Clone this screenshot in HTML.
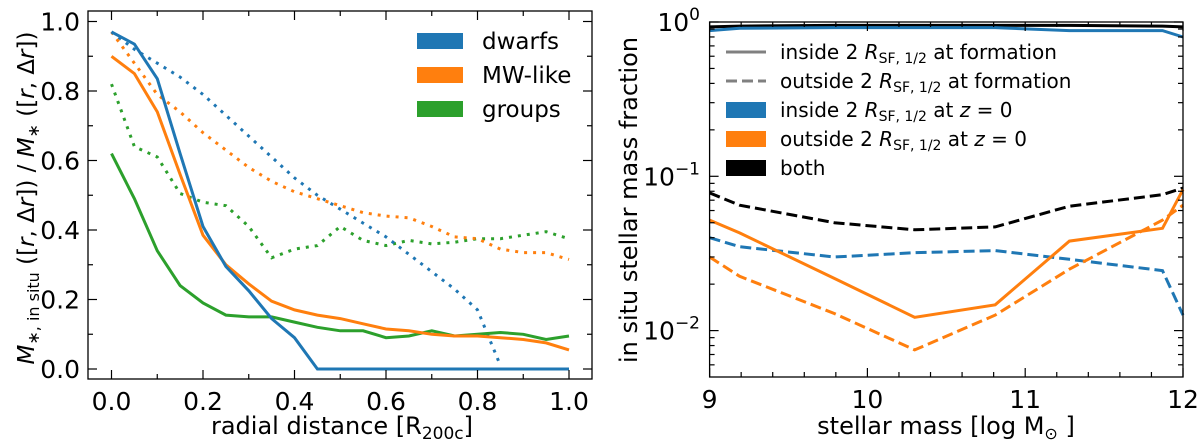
<!DOCTYPE html>
<html><head><meta charset="utf-8"><style>
html,body{margin:0;padding:0;background:#fff}
svg{display:block;font-family:"DejaVu Sans","Liberation Sans",sans-serif}
</style></head><body>
<svg id="c" width="1200" height="442" viewBox="0 0 1200 442" xmlns="http://www.w3.org/2000/svg">
<g id="L"></g>
<g id="R"></g>
</svg>
<script>
const radii=[0,0.05,0.1,0.15,0.2,0.25,0.3,0.35,0.4,0.45,0.5,0.55,0.6,0.65,0.7,0.75,0.8,0.85,0.9,0.95,1.0];
const dwarfsSolid=[0.97,0.935,0.835,0.62,0.41,0.295,0.225,0.145,0.09,0,0,0,0,0,0,0,0,0,0,0,0];
const mwSolid=[0.9,0.85,0.74,0.56,0.385,0.3,0.245,0.195,0.17,0.155,0.145,0.13,0.115,0.11,0.1,0.095,0.095,0.09,0.085,0.075,0.055];
const groupsSolid=[0.62,0.49,0.34,0.24,0.19,0.155,0.15,0.15,0.135,0.12,0.11,0.11,0.09,0.095,0.11,0.095,0.1,0.105,0.1,0.085,0.095];
const dwarfsDotted=[0.97,0.92,0.88,0.84,0.79,0.73,0.67,0.61,0.55,0.5,0.46,0.42,0.38,0.33,0.28,0.23,0.17,0.01];
const mwDotted=[0.97,0.88,0.79,0.74,0.68,0.63,0.58,0.54,0.51,0.49,0.47,0.45,0.44,0.435,0.41,0.38,0.375,0.345,0.335,0.335,0.315];
const groupsDotted=[0.82,0.64,0.61,0.505,0.48,0.47,0.41,0.32,0.345,0.355,0.41,0.37,0.355,0.37,0.36,0.365,0.375,0.375,0.385,0.395,0.375];
const leftTicks=["0.0","0.2","0.4","0.6","0.8","1.0"];

const masses=[9,9.19,9.79,10.3,10.81,11.28,11.87,12];
const bothSolid=[0.93,0.94,0.95,0.95,0.95,0.95,0.94,0.93];
const bothDashed=[0.078,0.065,0.05,0.045,0.047,0.064,0.076,0.084];
const inSolid=[0.88,0.91,0.92,0.92,0.92,0.88,0.88,0.8];
const inDashed=[0.04,0.035,0.03,0.032,0.033,0.029,0.0245,0.0126];
const outSolid=[0.052,0.043,0.0218,0.0122,0.0147,0.038,0.046,0.082];
const outDashed=[0.03,0.0225,0.0129,0.0075,0.0126,0.025,0.052,0.065];
const rightXTicks=["9","10","11","12"];

const NS="http://www.w3.org/2000/svg";
function mk(p,t,a){const e=document.createElementNS(NS,t);for(const k in a)e.setAttribute(k,a[k]);p.appendChild(e);return e;}
const C={b:"#1f77b4",o:"#ff7f0e",g:"#2ca02c",k:"#000"};

// LEFT
const L=document.getElementById('L');
const lx=v=>111.5+v*457.5, ly=v=>369-v*347.5;
function poly(par,xs,ys,fx,fy,col,dash,name){
  const pts=ys.map((v,i)=>fx(xs[i]).toFixed(1)+","+fy(v).toFixed(1)).join(" ");
  const e=mk(par,'polyline',{points:pts,fill:"none",stroke:col,"stroke-width":3,"stroke-dasharray":dash||"none"});
  
  
}
poly(L,radii,groupsDotted,lx,ly,C.g,"3 6","groups-dotted-line");
poly(L,radii,mwDotted,lx,ly,C.o,"3 6","mw-dotted-line");
poly(L,radii,dwarfsDotted,lx,ly,C.b,"3 6","dwarfs-dotted-line");
poly(L,radii,groupsSolid,lx,ly,C.g,"","groups-solid-line");
poly(L,radii,mwSolid,lx,ly,C.o,"","mw-solid-line");
poly(L,radii,dwarfsSolid,lx,ly,C.b,"","dwarfs-solid-line");
const lf=mk(L,'rect',{x:88,y:11,width:504,height:368,fill:"none",stroke:"#000","stroke-width":1.3});

for(let i=0;i<=10;i++){const v=i/10,maj=i%2==0,len=maj?9:5;
  const x=lx(v),y=ly(v);
  mk(L,'line',{x1:x,y1:379,x2:x,y2:379-len,stroke:"#000","stroke-width":1.2});
  mk(L,'line',{x1:x,y1:11,x2:x,y2:11+len,stroke:"#000","stroke-width":1.2});
  mk(L,'line',{x1:88,y1:y,x2:88+len,y2:y,stroke:"#000","stroke-width":1.2});
  mk(L,'line',{x1:592,y1:y,x2:592-len,y2:y,stroke:"#000","stroke-width":1.2});
}
leftTicks.forEach((t,i)=>{const v=i*0.2;
  const a=mk(L,'text',{x:lx(v),y:410,"font-size":25,"text-anchor":"middle"});a.textContent=t;
  
  const b=mk(L,'text',{x:80,y:ly(v)+9,"font-size":25,"text-anchor":"end"});b.textContent=t;
  
});
let t=mk(L,'text',{x:342,y:434,"font-size":24,"text-anchor":"middle"});
t.innerHTML='radial distance [R<tspan font-size="17" dy="5">200c</tspan><tspan dy="-5">]</tspan>';

t=mk(L,'text',{x:0,y:0,"font-size":23,"text-anchor":"middle",transform:"translate(34,198) rotate(-90)"});
t.innerHTML='<tspan font-style="italic">M</tspan><tspan font-size="16" dy="5">∗, in situ</tspan><tspan dy="-5"> ([</tspan><tspan font-style="italic">r</tspan>, Δ<tspan font-style="italic">r</tspan>]) / <tspan font-style="italic">M</tspan><tspan font-size="16" dy="5">∗</tspan><tspan dy="-5"> ([</tspan><tspan font-style="italic">r</tspan>, Δ<tspan font-style="italic">r</tspan>])';

[["dwarfs",C.b],["MW-like",C.o],["groups",C.g]].forEach((d,i)=>{
  const y=41+i*34;
  const r=mk(L,'rect',{x:417,y:y-8,width:46,height:16,fill:d[1]});
  
  const tx=mk(L,'text',{x:482,y:y+8,"font-size":23});tx.textContent=d[0];
  
});

// RIGHT
const R=document.getElementById('R');
const X0=709.6,X1=1183,Y0=22,Y1=377;
const rx=v=>X0+(v-9)*(X1-X0)/3;
const ry=v=>Y0+(-Math.log10(v))*154.3;
poly(R,masses,bothSolid,rx,ry,C.k,"","both-solid-line");
poly(R,masses,inSolid,rx,ry,C.b,"","inside-solid-line");
poly(R,masses,bothDashed,rx,ry,C.k,"11 5","both-dashed-line");
poly(R,masses,inDashed,rx,ry,C.b,"11 5","inside-dashed-line");
poly(R,masses,outDashed,rx,ry,C.o,"11 5","outside-dashed-line");
poly(R,masses,outSolid,rx,ry,C.o,"","outside-solid-line");
const rf=mk(R,'rect',{x:X0,y:Y0,width:X1-X0,height:Y1-Y0,fill:"none",stroke:"#000","stroke-width":1.3});

for(let i=0;i<=15;i++){const v=9+i*0.2,maj=i%5==0,len=maj?9:5,x=rx(v);
  mk(R,'line',{x1:x,y1:Y1,x2:x,y2:Y1-len,stroke:"#000","stroke-width":1.2});
  mk(R,'line',{x1:x,y1:Y0,x2:x,y2:Y0+len,stroke:"#000","stroke-width":1.2});}
for(let d=-3;d<=0;d++)for(let m=1;m<=9;m++){const v=m*Math.pow(10,d);const y=ry(v);
  if(y<Y0-0.5||y>Y1)continue;const len=m==1?9:5;
  mk(R,'line',{x1:X0,y1:y,x2:X0+len,y2:y,stroke:"#000","stroke-width":1.2});
  mk(R,'line',{x1:X1,y1:y,x2:X1-len,y2:y,stroke:"#000","stroke-width":1.2});}
rightXTicks.forEach(s=>{const a=mk(R,'text',{x:rx(+s),y:408,"font-size":25,"text-anchor":"middle"});a.textContent=s;
  });
[[1,"0"],[0.1,"−1"],[0.01,"−2"]].forEach(p=>{const a=mk(R,'text',{x:700,y:ry(p[0])+9,"font-size":25,"text-anchor":"end"});
  a.innerHTML='10<tspan font-size="17" dy="-11">'+p[1]+'</tspan>';
  });
t=mk(R,'text',{x:946,y:434,"font-size":24,"text-anchor":"middle"});
t.innerHTML='stellar mass [log M<tspan font-size="16" dy="5">⊙</tspan><tspan dy="-5"> ]</tspan>';

t=mk(R,'text',{x:0,y:0,"font-size":24,"text-anchor":"middle",transform:"translate(637,200) rotate(-90)"});
t.textContent='in situ stellar mass fraction';

const leg=[["line","#808080","none","inside 2 ","at formation"],["line","#808080","11 5","outside 2 ","at formation"],
 ["patch",C.b,"","inside 2 ","at z"],["patch",C.o,"","outside 2 ","at z"],["patch",C.k,"","both",""]];
leg.forEach((d,i)=>{const y=52+i*29;
  let h;
  if(d[0]=="line")h=mk(R,'line',{x1:726,y1:y,x2:766,y2:y,stroke:d[1],"stroke-width":3,"stroke-dasharray":d[2]});
  else h=mk(R,'rect',{x:726,y:y-8,width:40,height:16,fill:d[1]});
  
  const tx=mk(R,'text',{x:780,y:y+7,"font-size":20});
  if(d[3]=="both")tx.textContent="both";
  else{let s=d[3]+'<tspan font-style="italic">R</tspan><tspan font-size="14" dy="4">SF, 1/2</tspan><tspan dy="-4"> ';
    s+= d[4]=="at z"?'at <tspan font-style="italic">z</tspan> = 0</tspan>':'at formation</tspan>';tx.innerHTML=s;}
  
});
</script>
</body></html>
